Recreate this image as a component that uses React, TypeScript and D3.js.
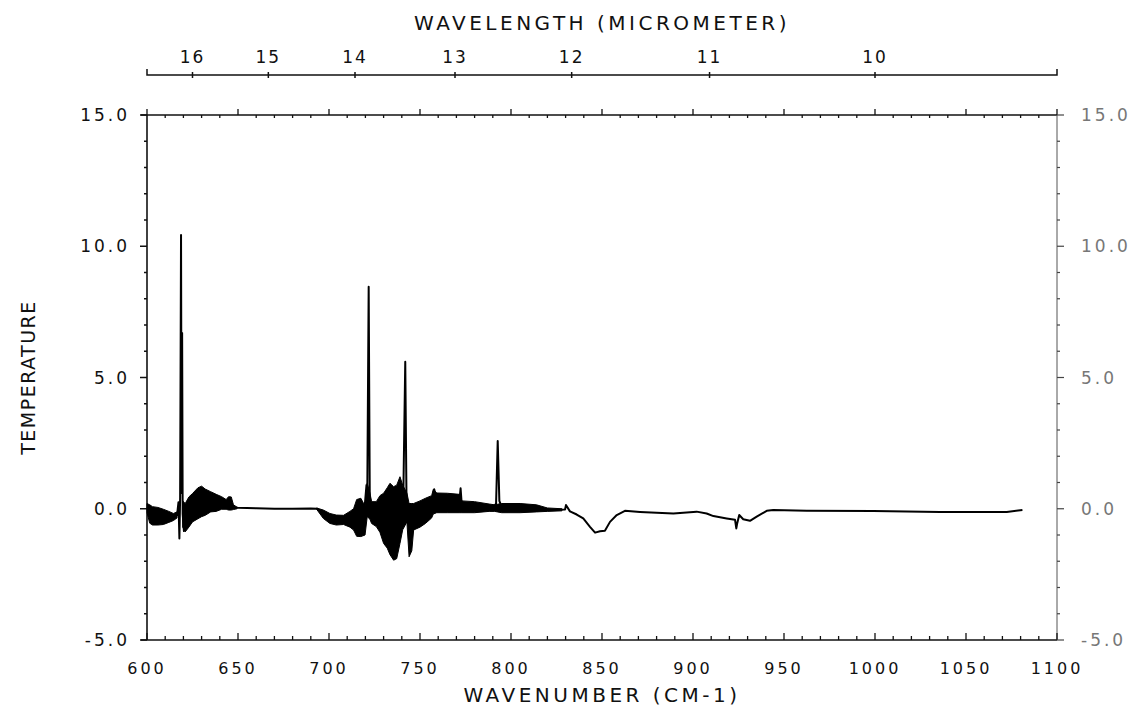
import React from "react";
import * as d3 from "d3";

// Axis labels
const wavenumberTicks = [600, 650, 700, 750, 800, 850, 900, 950, 1000, 1050, 1100];
const temperatureTicks = [-5, 0, 5, 10, 15];
const wavelengthTicks = [16, 15, 14, 13, 12, 11, 10];

// Trace (wavenumber in cm-1, temperature)
const traceWavenumber = [
  600, 602, 605, 608, 611, 614, 616.5, 617.3, 617.8, 618.2, 618.7, 619.0, 619.3, 619.6, 620.3,
  621.5, 623.5, 627, 630, 633, 636, 640, 643, 645.5, 647.5, 650, 660, 670, 680, 690, 693.5,
  697, 700.5, 705, 710, 713, 716, 719, 720.6, 721.0, 721.8, 722.4, 723.5, 726, 729, 732, 735,
  738, 740.8, 741.9, 742.6, 744.5, 748, 752, 756, 757.8, 759.5, 765, 771.5, 772.3, 773, 780,
  790, 791.8, 792.7, 793.6, 795, 805, 814, 820, 829.7, 830.2, 832.4, 836.1, 839.7, 843.4,
  846.2, 848.9, 851.6, 854.4, 858.1, 862.6, 870.9, 880, 889.2, 902, 907.5, 911.2, 918.5,
  923.1, 923.8, 924.3, 925.4, 927.6, 931.3, 935, 940.5, 944.1, 962.5, 999, 1035.7, 1072.4, 1081,
];
const traceValue = [
  0.05, -0.2, -0.3, -0.3, -0.3, -0.3, -0.25, 0.25, -1.13, 0.4, 10.43, 0.6, 6.7, -0.2, -0.85,
  -0.3, 0.0, 0.1, 0.3, 0.25, 0.25, 0.2, 0.15, 0.25, 0.05, 0.04, 0.02, 0.0, 0.0, 0.01, 0.0,
  -0.2, -0.35, -0.43, -0.45, -0.35, -0.3, -0.4, 0.9, 0.2, 8.46, 0.5, -0.15, -0.2, -0.35, -0.35, -0.5,
  -0.05, 0.3, 5.6, 0.2, -0.8, -0.3, -0.05, 0.0, 0.74, 0.25, 0.22, 0.2, 0.78, 0.1, 0.07,
  0.03, 0.2, 2.58, 0.3, 0.05, 0.03, -0.03, -0.05, -0.03, 0.14, -0.1, -0.22, -0.37, -0.69,
  -0.91, -0.86, -0.84, -0.5, -0.24, -0.08, -0.12, -0.15, -0.18, -0.11, -0.18, -0.28, -0.37,
  -0.42, -0.75, -0.55, -0.24, -0.4, -0.46, -0.3, -0.08, -0.05, -0.08, -0.09, -0.12, -0.12, -0.05,
];

// Envelope of the noisy stretches (NaN separates the stretches)
const noiseWavenumber = [
  600, 601.5, 603, 606, 609, 612, 614.5, 616.5, NaN,
  619.6, 621, 623, 625, 628, 630, 632, 635, 638, 641, 643.5, 644.8, 646.3, 647.5, 649.5, NaN,
  693.2, 696.9, 700.5, 704, 708, 711.5, 713.5, 715.2, 717.5, 719.8, 721, 722.5, 723.4, 726, 728,
  730, 732, 733.5, 735.5, 737.2, 739, 740.5, 742.8, 744, 745.5, 746.5, 750, 753, 756.4, 757.3,
  759.2, 765, 771.5, 773, 780, 788, 791, 794.9, 805, 814, 820, 828,
];
const noiseLow = [
  -0.15, -0.55, -0.62, -0.62, -0.6, -0.52, -0.45, -0.35, NaN,
  -0.7, -0.88, -0.7, -0.5, -0.38, -0.3, -0.25, -0.12, -0.1, -0.02, -0.02, -0.05, -0.05, -0.03, 0.0, NaN,
  -0.02, -0.37, -0.56, -0.62, -0.6, -0.7, -0.81, -1.05, -1.06, -1.0, -0.3, -0.4, -0.56, -0.68, -0.9,
  -1.32, -1.5, -1.75, -1.96, -1.9, -1.32, -0.8, -0.5, -1.83, -1.6, -0.81, -0.7, -0.56, -0.35, -0.2,
  -0.15, -0.15, -0.15, -0.15, -0.15, -0.1, -0.1, -0.15, -0.15, -0.12, -0.1, -0.08,
];
const noiseHigh = [
  0.2, 0.15, 0.08, 0.05, -0.02, -0.1, -0.18, -0.12, NaN,
  0.3, 0.2, 0.45, 0.58, 0.8, 0.86, 0.75, 0.65, 0.55, 0.46, 0.35, 0.46, 0.45, 0.15, 0.06, NaN,
  0.03, -0.05, -0.18, -0.24, -0.25, -0.1, 0.0, 0.35, 0.4, 0.1, 0.97, 0.6, 0.27, 0.27, 0.5,
  0.59, 0.8, 0.97, 0.84, 0.9, 1.22, 0.9, 0.6, 0.2, 0.2, 0.2, 0.3, 0.4, 0.5, 0.74,
  0.6, 0.59, 0.55, 0.3, 0.27, 0.18, 0.15, 0.2, 0.2, 0.15, 0.03, 0.0,
];

const W = 1138;
const H = 708;
const FONT = "'DejaVu Sans', sans-serif";

export default function App() {
  const x = d3.scaleLinear().domain([600, 1100]).range([147, 1057]);
  const y = d3.scaleLinear().domain([-5, 15]).range([640, 115]);
  const [x0, x1] = x.range();
  const [yBottom, yTop] = y.range();
  const topAxisY = 75;

  const trace = traceWavenumber.map((w, i) => [w, traceValue[i]] as [number, number]);
  const noise = noiseWavenumber.map((w, i) => ({ w, lo: noiseLow[i], hi: noiseHigh[i] }));

  const line = d3
    .line<[number, number]>()
    .x((d) => x(d[0]))
    .y((d) => y(d[1]));
  const area = d3
    .area<{ w: number; lo: number; hi: number }>()
    .defined((d) => !isNaN(d.w))
    .x((d) => x(d.w))
    .y0((d) => y(d.lo))
    .y1((d) => y(d.hi));

  const minorX = d3.range(600, 1101, 10);
  const minorY = d3.range(-5, 15.01, 1);

  return (
    <svg
      width={W}
      height={H}
      style={{ position: "absolute", left: 0, top: 0, background: "#fff" }}
      fontFamily={FONT}
    >
      {/* wavelength axis on top */}
      <text x={(x0 + x1) / 2} y={30} textAnchor="middle" fontSize={20} letterSpacing={3.5} fill="#111">
        WAVELENGTH (MICROMETER)
      </text>
      <path
        d={`M${x0},${topAxisY - 6}V${topAxisY}H${x1}V${topAxisY - 6}`}
        fill="none"
        stroke="#111"
        strokeWidth={1.5}
      />
      {wavelengthTicks.map((lam) => {
        const px = x(10000 / lam);
        return (
          <g key={lam}>
            <line x1={px} x2={px} y1={topAxisY - 3} y2={topAxisY + 3} stroke="#111" strokeWidth={1.5} />
            <text x={px} y={63} textAnchor="middle" fontSize={17} letterSpacing={2} fill="#111">
              {lam}
            </text>
          </g>
        );
      })}

      {/* frame */}
      <line x1={x0 - 6} x2={x1} y1={yBottom} y2={yBottom} stroke="#111" strokeWidth={1.6} />
      <line x1={x0 - 6} x2={x1} y1={yTop} y2={yTop} stroke="#111" strokeWidth={1.6} />
      <line x1={x0} x2={x0} y1={yTop} y2={yBottom} stroke="#111" strokeWidth={1.6} />
      <line x1={x1} x2={x1} y1={yTop} y2={yBottom} stroke="#555" strokeWidth={1} />

      {/* wavenumber ticks on bottom and top edges */}
      {minorX.map((v) => {
        const major = v % 50 === 0;
        return (
          <g key={v}>
            <line x1={x(v)} x2={x(v)} y1={yBottom} y2={yBottom - (major ? 7 : 4)} stroke="#111" strokeWidth={1.3} />
            <line x1={x(v)} x2={x(v)} y1={yTop} y2={major ? yTop - 6 : yTop + 3} stroke="#111" strokeWidth={1.3} />
          </g>
        );
      })}
      {wavenumberTicks.map((v) => (
        <text key={v} x={x(v)} y={674} textAnchor="middle" fontSize={16} letterSpacing={3} fill="#111">
          {v}
        </text>
      ))}
      <text x={(x0 + x1) / 2} y={702} textAnchor="middle" fontSize={20} letterSpacing={3.5} fill="#111">
        WAVENUMBER (CM-1)
      </text>

      {/* temperature ticks, left and right */}
      {minorY.map((v) => {
        const major = Math.round(v) % 5 === 0;
        return (
          <g key={v}>
            <line x1={x0} x2={x0 - (major ? 7 : 3)} y1={y(v)} y2={y(v)} stroke="#111" strokeWidth={1.5} />
            <line x1={x1} x2={x1 + (major ? 7 : 3)} y1={y(v)} y2={y(v)} stroke="#444" strokeWidth={1.2} />
          </g>
        );
      })}
      {temperatureTicks.map((v) => (
        <g key={v}>
          <text x={130} y={y(v) + 6} textAnchor="end" fontSize={17} letterSpacing={3} fill="#111">
            {v.toFixed(1)}
          </text>
          <text x={x1 + 24} y={y(v) + 6} textAnchor="start" fontSize={17} letterSpacing={3} fill="#777">
            {v.toFixed(1)}
          </text>
        </g>
      ))}
      <text
        transform={`translate(35,${(yTop + yBottom) / 2}) rotate(-90)`}
        textAnchor="middle"
        fontSize={19}
        letterSpacing={1.5}
        fill="#111"
      >
        TEMPERATURE
      </text>

      {/* spectrum */}
      <path d={area(noise) ?? ""} fill="#000" stroke="#000" strokeWidth={1} />
      <path d={line(trace) ?? ""} fill="none" stroke="#000" strokeWidth={2} strokeLinejoin="round" />
    </svg>
  );
}
